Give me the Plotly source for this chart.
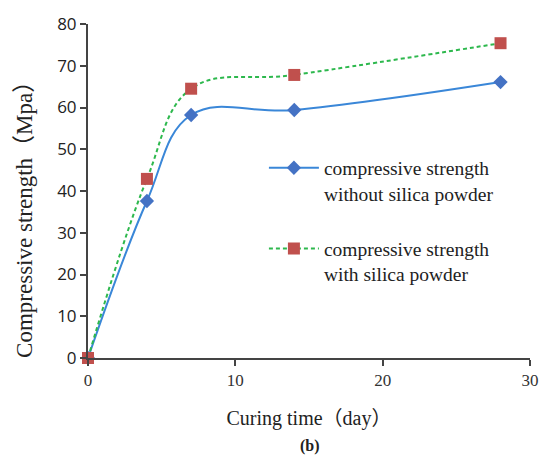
import plotly.graph_objects as go

days = [0, 4, 7, 14, 28]
without_silica = [0, 37.6, 58.2, 59.4, 66.1]
with_silica = [0, 42.9, 64.5, 67.8, 75.4]
name_without = "compressive strength<br>without silica powder"
name_with = "compressive strength<br>with silica powder"

fig = go.Figure()
fig.add_trace(go.Scatter(
    x=days, y=without_silica, name=name_without, legendgroup="a",
    mode="lines+markers", line=dict(color="#3a87d8", width=2, shape="spline", smoothing=1.1),
    marker=dict(symbol="diamond", size=11, color="#4472c4"), cliponaxis=False))
fig.add_trace(go.Scatter(
    x=days, y=with_silica, name=name_with, legendgroup="b",
    mode="lines+markers", line=dict(color="#2db84d", width=2, dash="4px,3px", shape="spline", smoothing=1.1),
    marker=dict(symbol="square", size=12, color="#c0504d"), cliponaxis=False))

serif = "Liberation Serif, Times New Roman, Noto Sans CJK SC"
fig.update_layout(
    width=553, height=456,
    margin=dict(l=88, r=23, t=15, b=98),
    paper_bgcolor="white", plot_bgcolor="white",
    showlegend=True,
    legend=dict(x=0.398, y=0.627, xanchor="left", yanchor="top", bgcolor="rgba(0,0,0,0)",
                font=dict(family=serif, size=19.5, color="#222"), traceorder="grouped",
                tracegroupgap=27, itemwidth=50, valign="top"),
    xaxis=dict(range=[0, 30], tickvals=[0, 10, 20, 30], showgrid=False, zeroline=False,
               showline=True, linecolor="#444", linewidth=2, ticks="outside", ticklen=6,
               tickcolor="#444", tickwidth=2,
               tickfont=dict(family=serif, size=17, color="#333"),
               title=dict(text="Curing time（day）", font=dict(family=serif, size=20, color="#222"), standoff=22)),
    yaxis=dict(range=[0, 80], dtick=10, showgrid=False, zeroline=False,
               showline=True, linecolor="#444", linewidth=2, ticks="outside", ticklen=6,
               tickcolor="#444", tickwidth=2,
               tickfont=dict(family="Open Sans, Liberation Sans", size=17, color="#222")),
    annotations=[
        dict(text="Compressive strength（Mpa）", x=-0.1425, y=0.4315, xref="paper", yref="paper",
             xanchor="center", yanchor="middle", textangle=-90, showarrow=False,
             font=dict(family=serif, size=23, color="#222")),
        dict(text="<b>(b)</b>", x=0.503, y=-0.264, xref="paper", yref="paper",
             xanchor="center", yanchor="middle",
             showarrow=False, font=dict(family=serif, size=16, color="#222"))],
)
fig.write_html("out.html")
